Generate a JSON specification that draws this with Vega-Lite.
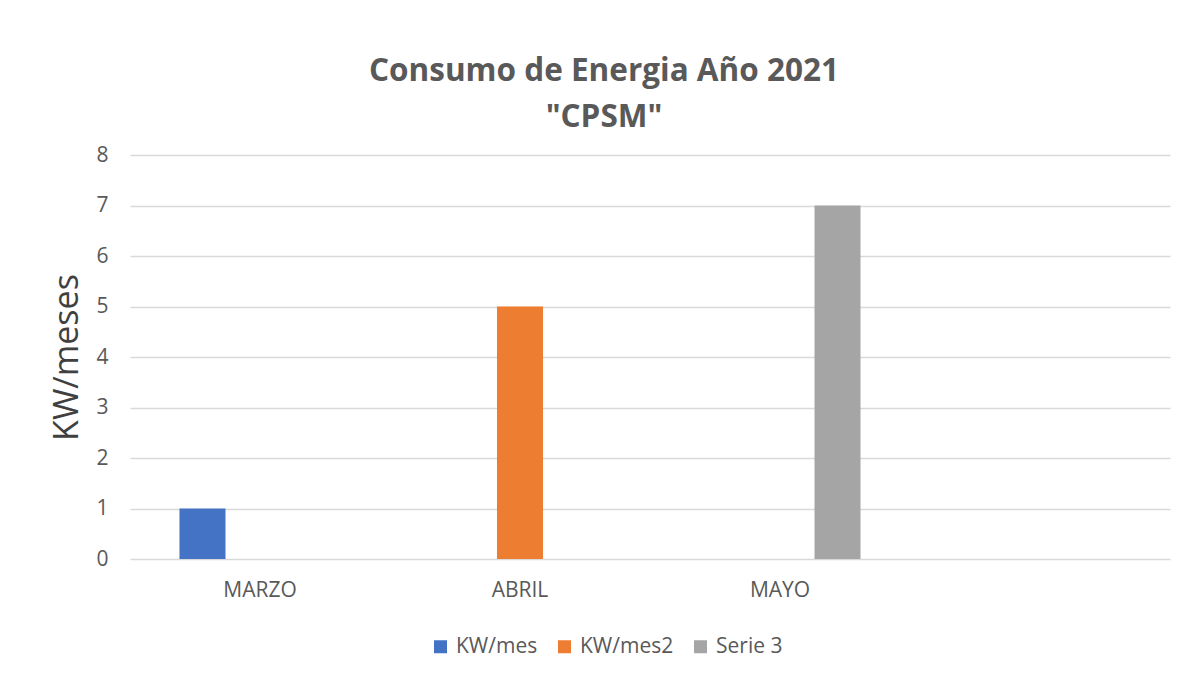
{
  "$schema": "https://vega.github.io/schema/vega-lite/v6.json",
  "width": 1040,
  "height": 404,
  "autosize": {"type": "none"},
  "padding": {"left": 130, "top": 155, "right": 12, "bottom": 114},
  "background": "white",
  "title": {
    "text": ["Consumo de Energia Año 2021", "\"CPSM\""],
    "font": "Open Sans",
    "fontSize": 31.5,
    "fontWeight": "bold",
    "color": "#595959",
    "anchor": "middle",
    "dx": -46,
    "offset": 11,
    "lineHeight": 46
  },
  "data": {
    "values": [
      {"mes": "MARZO", "serie": "KW/mes", "valor": 1},
      {"mes": "ABRIL", "serie": "KW/mes2", "valor": 5},
      {"mes": "MAYO", "serie": "Serie 3", "valor": 7}
    ]
  },
  "mark": {"type": "bar"},
  "encoding": {
    "x": {
      "field": "mes",
      "type": "nominal",
      "sort": null,
      "scale": {"domain": ["MARZO", "ABRIL", "MAYO", " "], "paddingInner": 0, "paddingOuter": 0},
      "axis": {
        "title": null,
        "labelAngle": 0,
        "domain": false,
        "ticks": false,
        "labelPadding": 20,
        "labelFont": "Open Sans",
        "labelFontSize": 21,
        "labelColor": "#595959"
      }
    },
    "xOffset": {
      "field": "serie",
      "type": "nominal",
      "scale": {"domain": ["KW/mes", "KW/mes2", "Serie 3"], "paddingInner": 0.2, "paddingOuter": 0.86}
    },
    "y": {
      "field": "valor",
      "type": "quantitative",
      "scale": {"domain": [0, 8], "nice": false},
      "axis": {
        "title": "KW/meses",
        "titleFont": "Open Sans",
        "titleFontSize": 34,
        "titleFontWeight": "normal",
        "titleColor": "#404040",
        "titlePadding": 11,
        "values": [0, 1, 2, 3, 4, 5, 6, 7, 8],
        "domain": false,
        "ticks": false,
        "labelPadding": 22,
        "labelFont": "Open Sans",
        "labelFontSize": 21,
        "labelColor": "#595959",
        "grid": true,
        "gridColor": "#d9d9d9",
        "gridWidth": 1.3
      }
    },
    "color": {
      "field": "serie",
      "type": "nominal",
      "scale": {"domain": ["KW/mes", "KW/mes2", "Serie 3"], "range": ["#4472c4", "#ed7d31", "#a5a5a5"]},
      "legend": {
        "title": null,
        "orient": "none",
        "legendX": 300,
        "legendY": 481,
        "direction": "horizontal",
        "symbolType": "square",
        "symbolSize": 169,
        "symbolStrokeWidth": 0,
        "labelFont": "Open Sans",
        "labelFontSize": 21,
        "labelColor": "#595959",
        "labelOffset": 5,
        "columnPadding": 16
      }
    }
  },
  "config": {"view": {"stroke": null}}
}
